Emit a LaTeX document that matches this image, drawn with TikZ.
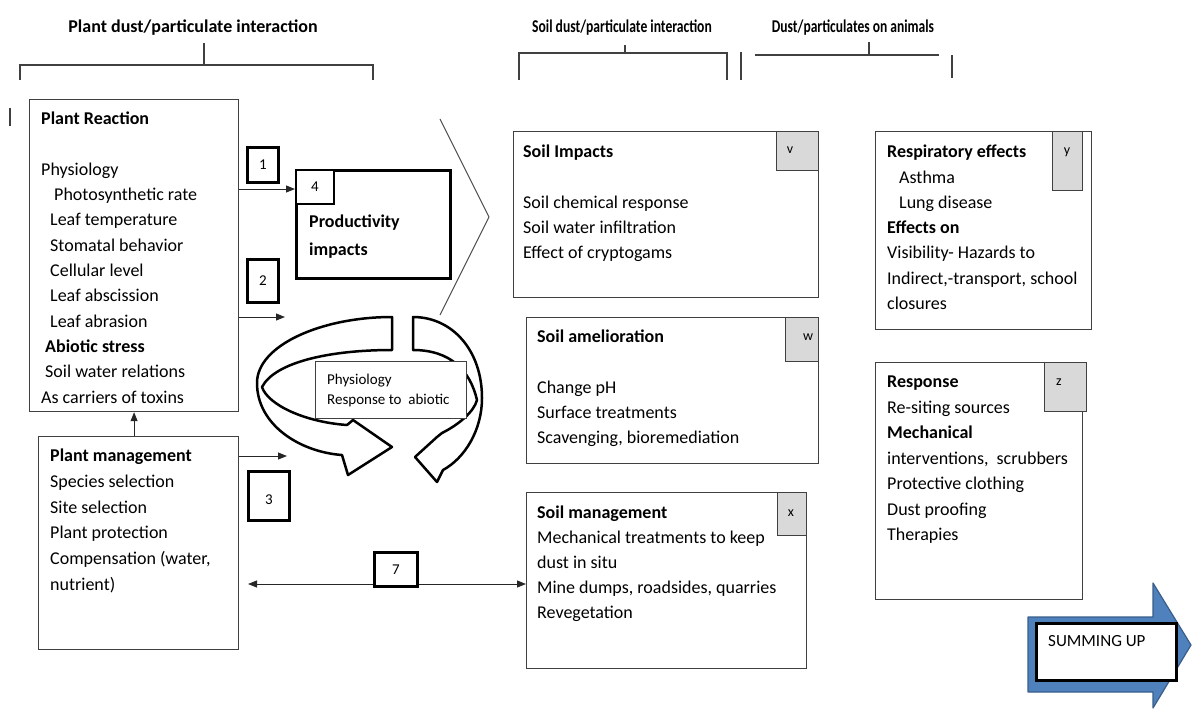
\documentclass[tikz,border=0pt]{standalone}
\usepackage{graphicx}
\usepackage{fontspec}
\setmainfont{Carlito}
\usetikzlibrary{arrows.meta}
\definecolor{boxgray}{HTML}{404040}
\definecolor{taggray}{HTML}{D9D9D9}
\definecolor{sumfill}{HTML}{4F81BD}
\definecolor{sumdraw}{HTML}{385D8A}
\begin{document}
\begin{tikzpicture}[x=1pt,y=-1pt,
  box/.style={draw=boxgray, line width=1.2pt, fill=white, inner sep=0pt, anchor=north west},
  tag/.style={draw=boxgray, line width=1.2pt, fill=taggray, inner sep=0pt, anchor=north west},
  numbox/.style={draw=black, line width=3pt, fill=white, inner sep=0pt, anchor=north west},
  txt/.style={anchor=north west, inner sep=0pt, align=left, font=\fontsize{18}{25.3}\selectfont},
  hdr/.style={anchor=base, inner sep=0pt, font=\bfseries\fontsize{18}{22}\selectfont},
  lbl/.style={inner sep=0pt, font=\fontsize{15}{18}\selectfont},
  taglbl/.style={inner sep=0pt, font=\fontsize{14}{16}\selectfont},
  arr/.style={draw=black!85, line width=1pt, -{Triangle[length=9pt,width=7pt]}},
  darr/.style={draw=black!85, line width=1pt, {Triangle[length=9pt,width=7pt]}-{Triangle[length=9pt,width=7pt]}},
  brk/.style={draw=black!75, line width=1.2pt},
  ring/.style={draw=black, line width=2.5pt, fill=white, line join=round},
  hol/.style={draw=black!70, line width=1pt, line join=round},
]
\useasboundingbox (0,0) rectangle (1192,713);

% headers and brackets
\node[hdr] (h1) at (193,32) {Plant dust/particulate interaction};
\node[hdr] (h2) at (622,32) {\scalebox{0.756}[1]{Soil dust/particulate interaction}};
\node[hdr] (h3) at (853,32) {\scalebox{0.752}[1]{Dust/particulates on animals}};
\draw[brk] (20,80) -- (20,65) -- (373,65) -- (373,80);
\draw[brk] (204,43) -- (204,65);
\draw[brk] (519,80) -- (519,53) -- (727,53) -- (727,80);
\draw[brk] (625,45) -- (625,53);
\draw[brk] (741,52) -- (741,80);
\draw[brk] (755,55) -- (939,55);
\draw[brk] (869,42) -- (869,55);
\draw[brk] (952,55) -- (952,78);
\draw[brk] (10,108) -- (10,126);

% left boxes
\node[box, minimum width=209, minimum height=312] (pr) at (29,99) {};
\node[txt] (prt) at (41,106.8) {\strut\textbf{Plant Reaction}\\ \strut\\ Physiology\\
  \hspace*{13pt}Photosynthetic rate\\ \hspace*{9pt}Leaf temperature\\ \hspace*{9pt}Stomatal behavior\\
  \hspace*{9pt}Cellular level\\ \hspace*{9pt}Leaf abscission\\ \hspace*{9pt}Leaf abrasion\\
  \hspace*{4pt}\textbf{Abiotic stress}\\ \hspace*{4pt}Soil water relations\\ As carriers of toxins};

\node[box, minimum width=200, minimum height=213] (pm) at (38,436) {};
\node[txt, font=\fontsize{18}{25.7}\selectfont] (pmt) at (50,443.5) {\strut\textbf{Plant management}\\ Species selection\\ Site selection\\
  Plant protection\\ Compensation (water,\\ nutrient)};

% big hollow arrow head
\draw[hol] (440,119) -- (489,217) -- (440,315);

% productivity
\node[box, draw=black, line width=3pt, minimum width=154, minimum height=108] (prod) at (295,169) {};
\node[numbox, line width=2pt, minimum width=38, minimum height=34] (b4) at (295,169) {};
\node[lbl] at (b4.center) {4};
\node[anchor=north west, inner sep=0pt, align=left, font=\bfseries\fontsize{18}{28}\selectfont] (prodt) at (309,207.9) {\strut Productivity\\ impacts};

% circular arrows
\draw[ring] (392,317) .. controls (322,317) and (257,345) .. (257,383)
  .. controls (257,425) and (300,452) .. (342,455)
  -- (348,475) -- (392,447) -- (353,420) -- (347,425)
  .. controls (305,422) and (268,405) .. (262,387)
  .. controls (275,362) and (330,350) .. (392,350) -- cycle;
\draw[ring] (413,317) .. controls (452,317) and (482,350) .. (482,398)
  .. controls (482,430) and (465,458) .. (443,470)
  -- (437,482) -- (415,457) -- (437,437) -- (442,433)
  .. controls (458,425) and (474,412) .. (477,400)
  .. controls (470,370) and (450,350) .. (413,350) -- cycle;
\node[box, minimum width=151, minimum height=57] (phys) at (315,361) {};
\node[anchor=north west, inner sep=0pt, align=left, font=\fontsize{15}{20}\selectfont] (physt) at (327,370.5) {\strut Physiology\\ Response to\ \ abiotic};

% number boxes
\node[numbox, minimum width=31, minimum height=35] (b1) at (246,146) {};
\node[lbl] at (b1.center) {1};
\node[numbox, minimum width=31, minimum height=43] (b2) at (246,258) {};
\node[lbl] at (b2.center) {2};
\node[numbox, minimum width=41, minimum height=49] (b3) at (247,470) {};
\node[lbl] at ([yshift=-4]b3.center) {3};

% connectors
\coordinate (y189) at (0,189);
\coordinate (c2) at (285,317);
\coordinate (c3) at (287,456);
\coordinate (c7) at (248,584);
\draw[arr] (pr.east |- y189) -- (prod.west |- y189);
\draw[arr] (pr.east |- c2) -- (c2);
\draw[arr] (pm.east |- c3) -- (c3);
\draw[arr] (pm.north -| pr.south) -- (pr.south);

% soil boxes
\node[box, minimum width=305, minimum height=166] (si) at (513,131) {};
\node[tag, minimum width=42, minimum height=39] (tv) at (776,131) {};
\node[taglbl] at (790,150) {v};
\node[txt] (sit) at (523,139.8) {\strut\textbf{Soil Impacts}\\ \strut\\ Soil chemical response\\ Soil water infiltration\\ Effect of cryptogams};

\node[box, minimum width=292, minimum height=146] (sa) at (526,317) {};
\node[tag, minimum width=33, minimum height=44] (tw) at (785,317) {};
\node[taglbl] at (808,337) {w};
\node[txt] (sat) at (537,324.8) {\strut\textbf{Soil amelioration}\\ \strut\\ Change pH\\ Surface treatments\\ Scavenging, bioremediation};

\node[box, minimum width=280, minimum height=176] (sm) at (526,492) {};
\node[tag, minimum width=29, minimum height=43] (tx) at (777,492) {};
\node[taglbl] at (791,513) {x};
\node[txt, font=\fontsize{18}{25}\selectfont] (smt) at (537,500.8) {\strut\textbf{Soil management}\\ Mechanical treatments to keep\\ dust in situ\\ Mine dumps, roadsides, quarries\\ Revegetation};

\draw[darr] (c7) -- (sm.west |- c7);
\node[numbox, minimum width=43, minimum height=34] (b7) at (373,551) {};
\node[lbl] at (b7.center) {7};

% animal boxes
\node[box, minimum width=216, minimum height=198] (resp) at (875,131) {};
\node[tag, minimum width=30, minimum height=59] (ty) at (1052,131) {};
\node[taglbl] at (1067,152) {y};
\node[txt] (respt) at (887,139.8) {\strut\textbf{Respiratory effects}\\ \hspace*{12pt}Asthma\\ \hspace*{12pt}Lung disease\\ \textbf{Effects on}\\
  Visibility- Hazards to\\ Indirect,-transport, school\\ closures};

\node[box, minimum width=207, minimum height=237] (rsp) at (875,362) {};
\node[tag, minimum width=42, minimum height=49] (tz) at (1044,362) {};
\node[taglbl] at (1059,382) {z};
\node[txt, font=\fontsize{18}{25.5}\selectfont] (rspt) at (887,369.8) {\strut\textbf{Response}\\ Re-siting sources\\ \textbf{Mechanical}\\ interventions,\ \ scrubbers\\
  Protective clothing\\ Dust proofing\\ Therapies};

% summing up arrow
\draw[fill=sumfill, draw=sumdraw, line width=1.2pt, line join=round] (1028,617) -- (1153,617) -- (1153,583) -- (1191,645) -- (1153,708) -- (1153,692) -- (1028,692) -- cycle;
\node[box, draw=black, line width=3pt, minimum width=140, minimum height=57] (sum) at (1035,622) {};
\node[anchor=base west, inner sep=0pt, font=\fontsize{17}{20}\selectfont] (sumt) at (1048,646) {SUMMING UP};
\end{tikzpicture}
\end{document}
